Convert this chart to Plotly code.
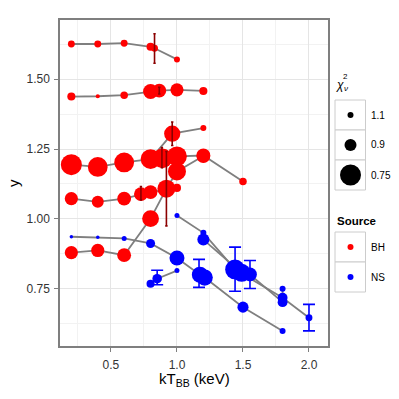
import numpy as np
import plotly.graph_objects as go

# ---------------- data ----------------
# BH sources (kT_BB, y, reduced chi2)
bh1_x = [0.2, 0.4, 0.6, 0.8, 0.83, 1.0]
bh1_y = [1.626, 1.626, 1.629, 1.616, 1.611, 1.571]
bh1_c = [1.07, 1.07, 1.07, 1.03, 1.07, 1.10]

bh2_x = [0.2, 0.4, 0.6, 0.8, 0.866, 1.0, 1.2]
bh2_y = [1.438, 1.439, 1.443, 1.456, 1.459, 1.462, 1.458]
bh2_c = [1.03, 1.25, 1.05, 0.85, 0.87, 0.88, 1.03]

bh3_x = [0.2, 0.4, 0.6, 0.8, 0.964, 1.2]
bh3_y = [1.194, 1.186, 1.202, 1.214, 1.305, 1.325]
bh3_c = [0.75, 0.77, 0.77, 0.77, 0.83, 1.10]

bh4_x = [0.2, 0.4, 0.6, 0.727, 0.8, 1.0]
bh4_y = [1.0725, 1.061, 1.0725, 1.089, 1.096, 1.111]
bh4_c = [0.88, 0.90, 0.87, 0.87, 0.87, 1.03]

bh5_x = [0.2, 0.4, 0.6, 0.8, 0.92, 1.0, 1.2]
bh5_y = [0.879, 0.887, 0.870, 1.001, 1.108, 1.170, 1.225]
bh5_c = [0.88, 0.88, 0.87, 0.82, 0.80, 0.80, 0.87]

bh6_x = [0.89, 1.0, 1.2, 1.5]
bh6_y = [1.217, 1.224, 1.227, 1.134]
bh6_c = [0.77, 0.77, 0.87, 1.05]

# NS sources
ns1_x = [0.2, 0.4, 0.6, 0.8, 1.0, 1.174, 1.21, 1.5, 1.8]
ns1_y = [0.936, 0.934, 0.930, 0.912, 0.860, 0.800, 0.790, 0.684, 0.599]
ns1_c = [1.30, 1.30, 1.18, 1.00, 0.85, 0.83, 0.83, 0.93, 1.10]

ns2_x = [0.8, 0.85, 1.0]
ns2_y = [0.768, 0.786, 0.815]
ns2_c = [1.03, 0.98, 1.18]

ns3_x = [1.0, 1.2, 1.44, 1.8, 2.0]
ns3_y = [1.012, 0.950, 0.819, 0.718, 0.646]
ns3_c = [1.18, 1.10, 0.77, 0.97, 1.07]

ns4_x = [1.2, 1.49, 1.553, 1.8, 1.8]
ns4_y = [0.926, 0.807, 0.801, 0.702, 0.750]
ns4_c = [0.90, 0.80, 0.87, 0.97, 1.10]

# error bars
bh_err_x = [0.83, 0.866, 0.964, 0.886, 0.727, 0.92]
bh_err_y = [1.61, 1.459, 1.305, 1.219, 1.092, 1.108]
bh_err_e = [0.053, 0.012, 0.042, 0.036, 0.024, 0.133]

ns_err_x = [1.167, 0.85, 1.44, 1.553, 2.0]
ns_err_y = [0.805, 0.790, 0.820, 0.801, 0.6465]
ns_err_e = [0.050, 0.026, 0.079, 0.050, 0.0475]

# axis ticks
x_ticks = [0.5, 1.0, 1.5, 2.0]
x_ticklabels = ["0.5", "1.0", "1.5", "2.0"]
y_ticks = [0.75, 1.00, 1.25, 1.50]
y_ticklabels = ["0.75", "1.00", "1.25", "1.50"]

# legend
chi_breaks = [1.1, 0.9, 0.75]
chi_labels = ["1.1", "0.9", "0.75"]
source_labels = ["BH", "NS"]

# ---------------- styling ----------------
W = H = 399
RED = "#FF0000"
BLUE = "#0000FF"
DARKRED = "#8B0000"
GREY_LINE = "#7F7F7F"
FONT = "Liberation Sans, Arial, sans-serif"


def chi2_px(c):
    return np.interp(-np.asarray(c, dtype=float), [-1.3, -1.1, -0.9, -0.75, -0.7], [3.5, 6, 12, 21, 24])


def px(x):
    return x / W


def py(y):
    return 1 - y / H


def text_at(x, y, text, size, xanchor="center", angle=0, color="black"):
    return dict(x=px(x), y=py(y), xref="paper", yref="paper", text=text, showarrow=False,
                xanchor=xanchor, yanchor="middle", textangle=angle,
                font=dict(size=size, color=color, family=FONT))


bh_groups = [(bh1_x, bh1_y, bh1_c), (bh2_x, bh2_y, bh2_c), (bh3_x, bh3_y, bh3_c),
             (bh4_x, bh4_y, bh4_c), (bh5_x, bh5_y, bh5_c), (bh6_x, bh6_y, bh6_c)]
ns_groups = [(ns1_x, ns1_y, ns1_c), (ns2_x, ns2_y, ns2_c), (ns3_x, ns3_y, ns3_c), (ns4_x, ns4_y, ns4_c)]

fig = go.Figure()

# lines (all under points)
for gx, gy, gc in bh_groups + ns_groups:
    order = np.argsort(gx, kind="stable")
    fig.add_trace(go.Scatter(x=np.asarray(gx)[order], y=np.asarray(gy)[order], mode="lines",
                             line=dict(color=GREY_LINE, width=1.8), showlegend=False, hoverinfo="skip"))

# points
for groups, col in [(bh_groups, RED), (ns_groups, BLUE)]:
    for gx, gy, gc in groups:
        fig.add_trace(go.Scatter(x=gx, y=gy, mode="markers",
                                 marker=dict(color=col, size=chi2_px(gc), line=dict(width=0), opacity=1),
                                 showlegend=False))

# error bars
fig.add_trace(go.Scatter(x=bh_err_x, y=bh_err_y, mode="markers",
                         marker=dict(size=1, color="rgba(0,0,0,0)"),
                         error_y=dict(type="data", array=bh_err_e, color=DARKRED, thickness=1.6, width=1.2),
                         showlegend=False))
fig.add_trace(go.Scatter(x=ns_err_x, y=ns_err_y, mode="markers",
                         marker=dict(size=1, color="rgba(0,0,0,0)"),
                         error_y=dict(type="data", array=ns_err_e, color=BLUE, thickness=1.6, width=6),
                         showlegend=False))

shapes = []
annotations = []

# legend: chi2 title
annotations.append(text_at(339.5, 85, "<i>χ</i>", 12))
annotations.append(text_at(345.5, 77, "2", 8))
annotations.append(text_at(345.5, 89, "<i>ν</i>", 8))

chi_boxes = [(100, 130), (130, 160), (160, 190)]
for (y0, y1), c, lab in zip(chi_boxes, chi_breaks, chi_labels):
    shapes.append(dict(type="rect", xref="paper", yref="paper", x0=px(335), x1=px(365.5),
                       y0=py(y1), y1=py(y0), line=dict(color="#CCCCCC", width=1), fillcolor="white"))
    r = float(chi2_px(c)) / 2
    yc = (y0 + y1) / 2
    shapes.append(dict(type="circle", xref="paper", yref="paper", xsizemode="pixel", ysizemode="pixel",
                       xanchor=px(350.5), yanchor=py(yc), x0=-r, x1=r, y0=-r, y1=r,
                       fillcolor="black", line=dict(width=0)))
    annotations.append(text_at(369, yc, lab, 10, xanchor="left"))

# legend: source
annotations.append(text_at(335, 221, "<b>Source</b>", 11.5, xanchor="left"))
src_boxes = [(232, 262), (262, 292)]
for (y0, y1), col, lab in zip(src_boxes, [RED, BLUE], source_labels):
    shapes.append(dict(type="rect", xref="paper", yref="paper", x0=px(335), x1=px(365.5),
                       y0=py(y1), y1=py(y0), line=dict(color="#CCCCCC", width=1), fillcolor="white"))
    yc = (y0 + y1) / 2
    shapes.append(dict(type="circle", xref="paper", yref="paper", xsizemode="pixel", ysizemode="pixel",
                       xanchor=px(350.5), yanchor=py(yc), x0=-3, x1=3, y0=-3, y1=3,
                       fillcolor=col, line=dict(width=0)))
    annotations.append(text_at(369, yc, lab, 10, xanchor="left"))

# axis titles
annotations.append(text_at(194, 379, "kT<sub>BB</sub> (keV)", 15))
annotations.append(text_at(13, 183, "y", 15, angle=-90))

axis_common = dict(showline=True, linecolor="#7F7F7F", linewidth=1.5, mirror=True,
                   ticks="outside", ticklen=4, tickcolor="#7F7F7F", tickwidth=1,
                   gridcolor="#E5E5E5", gridwidth=1, zeroline=False,
                   tickfont=dict(size=12, color="#333333", family=FONT))

fig.update_layout(
    width=W, height=H,
    margin=dict(l=0, r=0, t=0, b=0),
    paper_bgcolor="white", plot_bgcolor="white",
    showlegend=False,
    font=dict(family=FONT),
    xaxis=dict(domain=[px(60), px(328)], range=[0.114, 2.144], tickvals=x_ticks, ticktext=x_ticklabels,
               ticklabelstandoff=3,
               minor=dict(tickvals=[0.25, 0.75, 1.25, 1.75], showgrid=True, gridcolor="#F2F2F2", ticks=""),
               **axis_common),
    yaxis=dict(domain=[py(346), py(20)], range=[0.545, 1.712], tickvals=y_ticks, ticktext=y_ticklabels,
               ticklabelstandoff=2,
               minor=dict(tickvals=[0.625, 0.875, 1.125, 1.375, 1.625], showgrid=True, gridcolor="#F2F2F2",
                          ticks=""),
               **axis_common),
    shapes=shapes,
    annotations=annotations,
)

fig.write_html("out.html", config={"displayModeBar": False},
               post_script="document.body.style.margin='0';document.body.style.padding='0';"
                           "document.body.style.overflow='hidden';")
